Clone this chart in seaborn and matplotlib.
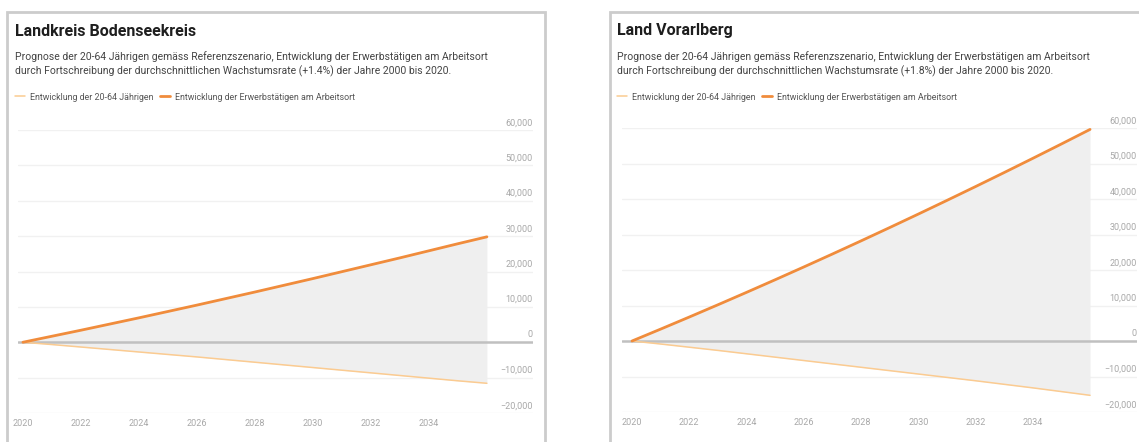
import numpy as np
import pandas as pd
import matplotlib
matplotlib.use("Agg")
import matplotlib.pyplot as plt
import matplotlib.transforms as mtransforms
from matplotlib.patches import Rectangle
from matplotlib.lines import Line2D
import seaborn as sns

# ---------------- data ----------------
years = list(range(2020, 2037))
x_ticks = [2020, 2022, 2024, 2026, 2028, 2030, 2032, 2034]
y_ticks = [-20000, -10000, 0, 10000, 20000, 30000, 40000, 50000, 60000]

series_pop = "Entwicklung der 20-64 Jährigen"
series_emp = "Entwicklung der Erwerbstätigen am Arbeitsort"

titles = ["Landkreis Bodenseekreis", "Land Vorarlberg"]
subtitles = [
    "Prognose der 20-64 Jährigen gemäss Referenzszenario, Entwicklung der Erwerbstätigen am Arbeitsort\n"
    "durch Fortschreibung der durchschnittlichen Wachstumsrate (+1.4%) der Jahre 2000 bis 2020.",
    "Prognose der 20-64 Jährigen gemäss Referenzszenario, Entwicklung der Erwerbstätigen am Arbeitsort\n"
    "durch Fortschreibung der durchschnittlichen Wachstumsrate (+1.8%) der Jahre 2000 bis 2020.",
]

bodensee_emp = [0, 1700, 3400, 5150, 6900, 8700, 10500, 12350, 14200,
                16100, 18000, 19950, 21900, 23850, 25850, 27850, 29800]
bodensee_pop = [0, -650, -1350, -2050, -2750, -3450, -4150, -4900, -5650,
                -6400, -7150, -7900, -8650, -9400, -10150, -10900, -11600]
vorarlberg_emp = [0, 3350, 6750, 10200, 13700, 17250, 20850, 24500, 28200,
                  31950, 35750, 39600, 43500, 47450, 51450, 55500, 59600]
vorarlberg_pop = [0, -850, -1750, -2650, -3600, -4550, -5500, -6450, -7400,
                  -8350, -9300, -10250, -11200, -12200, -13200, -14250, -15300]

panels = [
    (bodensee_pop, bodensee_emp),
    (vorarlberg_pop, vorarlberg_emp),
]

# ---------------- style ----------------
sns.set_style("white")
plt.rcParams["font.family"] = ["Roboto", "DejaVu Sans"]

W, H = 1139, 442
fig = plt.figure(figsize=(W / 100, H / 100), dpi=100)

palette = {series_pop: "#fbcb91", series_emp: "#f08c3c"}
sizes = {series_pop: 1.1, series_emp: 2.0}

# axes geometry in pixels: (left, right, top, bottom)
geom = [(18, 533, 130, 413), (622, 1137, 128, 412)]
xlims = [(2019.83, 2037.59), (2019.65, 2037.64)]
frames = [(7, 545), (610, 1250)]
text_x = [15, 617]


def fx(px):
    return px / W


def fy(py):
    return 1 - py / H


for i, (pop, emp) in enumerate(panels):
    l, r, t, b = geom[i]
    ax = fig.add_axes([fx(l), fy(b), (r - l) / W, (b - t) / H])

    df = pd.DataFrame({
        "Jahr": years * 2,
        "Wert": list(pop) + list(emp),
        "Serie": [series_pop] * len(years) + [series_emp] * len(years),
    })

    # grid lines
    for v in y_ticks:
        if v == 0:
            continue
        ax.axhline(v, color="#f1f1f1", lw=1.0, zorder=0)

    ax.fill_between(years, pop, emp, color="#efefef", lw=0, zorder=1)
    ax.axhline(0, color="#c0c0c0", lw=1.8, zorder=2)

    sns.lineplot(data=df, x="Jahr", y="Wert", hue="Serie", size="Serie",
                 palette=palette, sizes=sizes, ax=ax, legend=False, zorder=3)

    ax.set_xlim(*xlims[i])
    ax.set_ylim(-20000, 60000)
    ax.set_xlabel("")
    ax.set_ylabel("")
    for s in ax.spines.values():
        s.set_visible(False)
    ax.set_xticks(x_ticks)
    ax.set_xticklabels([str(y) for y in x_ticks])
    ax.tick_params(axis="x", length=0, pad=4.5, labelsize=6.5, labelcolor="#a8a8a8")
    ax.set_yticks([])

    trans = mtransforms.blended_transform_factory(ax.transAxes, ax.transData)
    off = mtransforms.ScaledTranslation(0, 2 / 72, fig.dpi_scale_trans)
    for v in y_ticks:
        lab = f"{v:,}".replace("-", "\u2212")
        ax.text(1.0, v, lab, transform=trans + off, ha="right", va="bottom",
                fontsize=6.5, color="#a8a8a8")

    # frame
    f0, f1 = frames[i]
    fig.patches.append(Rectangle((fx(f0), -0.2), (f1 - f0) / W, fy(12) + 0.2,
                                 transform=fig.transFigure, fill=False,
                                 edgecolor="#cccccc", lw=2.0, clip_on=False))

    tx = text_x[i]
    fig.text(fx(tx), fy(31), titles[i], fontsize=11.5, fontweight="bold",
             color="#1e1e1e", ha="left", va="center")
    fig.text(fx(tx), fy(64), subtitles[i], fontsize=7.5, color="#444444",
             ha="left", va="center", linespacing=1.3)

    handles = [Line2D([0], [0], color=palette[series_pop], lw=1.1),
               Line2D([0], [0], color=palette[series_emp], lw=2.0)]
    leg = fig.legend(handles, [series_pop, series_emp], ncol=2, frameon=False,
                     loc="center left", bbox_to_anchor=(fx(tx), fy(97)),
                     fontsize=6.4, handlelength=1.1, handletextpad=0.55,
                     columnspacing=0.8, borderaxespad=0, borderpad=0)
    for txt in leg.get_texts():
        txt.set_color("#555555")

fig.savefig("out.png", dpi=100)
